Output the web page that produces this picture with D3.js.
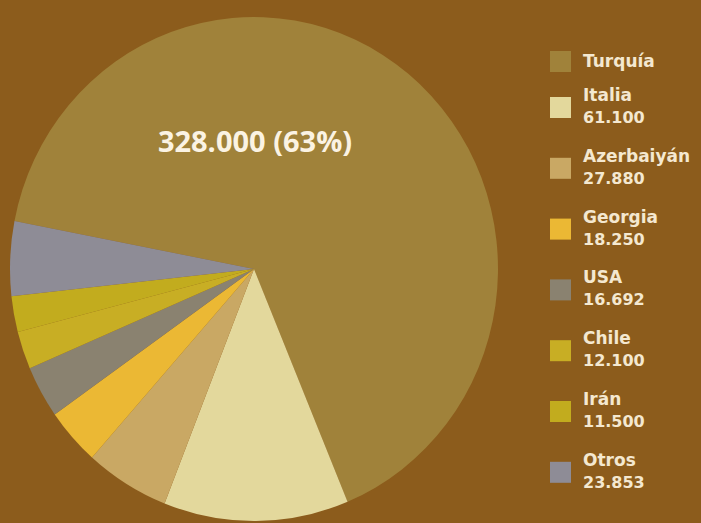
<!DOCTYPE html>
<html><head><meta charset="utf-8">
<script src="https://cdn.jsdelivr.net/npm/d3@7"></script>
<style>html,body{margin:0;padding:0;background:#8C5C1C;}svg{display:block;}</style>
</head><body>
<svg id="chart" width="701" height="523"></svg>
<script>
const categories = ["Turquía","Italia","Azerbaiyán","Georgia","USA","Chile","Irán","Otros"];
const values = [328000,61100,27880,18250,16692,12100,11500,23853];
const valueLabels = ["328.000","61.100","27.880","18.250","16.692","12.100","11.500","23.853"];
const colors = ["#A0823A","#E3D89C","#C9A864","#EBB834","#8A8270","#C8AE24","#C2AC1E","#8E8C96"];
const mainLabel = "328.000 (63%)";

const svg = d3.select("#chart");
svg.append("rect").attr("width",701).attr("height",523).attr("fill","#8C5C1C");

const cx = 254, cy = 269, rx = 244, ry = 252;
const deg = Math.PI/180;
const start = -79;
const pie = d3.pie().sort(null).value(d=>d)
  .startAngle(start*deg).endAngle((360+start)*deg);
const arcs = pie(values);
const arc = d3.arc().innerRadius(0).outerRadius(rx);

const g = svg.append("g").attr("transform",`translate(${cx},${cy}) scale(1,${ry/rx})`);
g.selectAll("path").data(arcs).enter().append("path")
  .attr("d",arc).attr("fill",(d,i)=>colors[i]);

svg.append("text").attr("x",cx+1).attr("y",cy-117)
  .attr("text-anchor","middle")
  .attr("font-family","'Open Sans', sans-serif").attr("font-weight",700)
  .attr("font-size",29).attr("fill","#FBF3E3").text(mainLabel);

// legend
const legend = svg.append("g");
const lx = 550, tx = 583;
const fontF = "'DejaVu Sans', sans-serif";
const col = "#F4E8D0";
categories.forEach((c,i)=>{
  if(i===0){
    legend.append("rect").attr("x",lx).attr("y",51).attr("width",21).attr("height",21).attr("fill",colors[i]);
    legend.append("text").attr("x",tx).attr("y",67).attr("font-family",fontF).attr("font-weight",700)
      .attr("font-size",17).attr("fill",col).text(c);
  } else {
    const vb = 123 + (i-1)*60.8;
    legend.append("rect").attr("x",lx).attr("y",vb-26).attr("width",21).attr("height",21).attr("fill",colors[i]);
    legend.append("text").attr("x",tx).attr("y",vb-22).attr("font-family",fontF).attr("font-weight",700)
      .attr("font-size",17).attr("fill",col).text(c);
    legend.append("text").attr("x",tx).attr("y",vb).attr("font-family",fontF).attr("font-weight",700)
      .attr("font-size",16).attr("fill",col).text(valueLabels[i]);
  }
});
</script>
</body></html>
